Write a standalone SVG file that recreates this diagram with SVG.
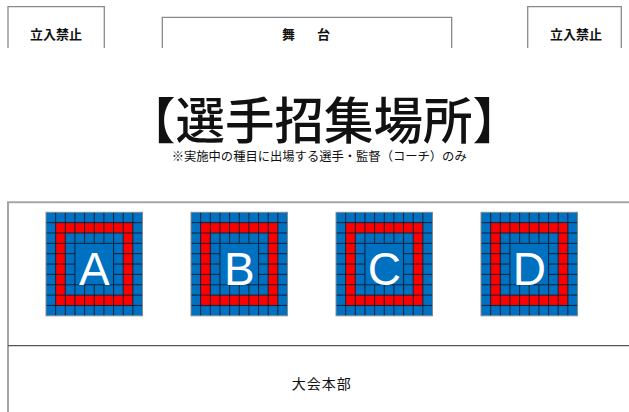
<svg xmlns="http://www.w3.org/2000/svg" xmlns:xlink="http://www.w3.org/1999/xlink" width="629" height="412" viewBox="0 0 629 412">
<style>
.frame{fill:none;stroke:#8a8a8a;stroke-width:1.3}
.jp{font-family:"Noto Sans CJK JP","Noto Sans",sans-serif;fill:#111}
.lbl{font-size:13px;font-weight:bold}
.letter{font-family:"Liberation Sans",Arial,sans-serif;font-size:46px;fill:#fff;text-anchor:middle}
</style>
<defs>
<g id="grid">
<rect x="0" y="0" width="96.5" height="103.5" fill="#0070C0"/>
<rect x="9.65" y="10.35" width="77.2" height="82.8" fill="#FF0000"/>
<rect x="19.3" y="20.7" width="57.9" height="62.1" fill="#0070C0"/>
<path fill="none" stroke="#0d1e30" stroke-width="1" stroke-opacity="0.95" d="M9.65 0V103.5M19.3 0V103.5M28.95 0V103.5M38.6 0V31.05M38.6 72.45V103.5M48.25 0V31.05M48.25 72.45V103.5M57.9 0V31.05M57.9 72.45V103.5M67.55 0V103.5M77.2 0V103.5M86.85 0V103.5M0 10.35H96.5M0 20.7H96.5M0 31.05H96.5M0 41.4H28.95M67.55 41.4H96.5M0 51.75H28.95M67.55 51.75H96.5M0 62.1H28.95M67.55 62.1H96.5M0 72.45H96.5M0 82.8H96.5M0 93.15H96.5"/>
<rect x="0" y="0" width="96.5" height="103.5" fill="none" stroke="#8a8a8a" stroke-width="1"/>
</g>
</defs>
<rect width="629" height="412" fill="#fff"/>
<g id="no-entry-left">
<path class="frame" d="M8 48V6.7H104.3V48"/>
<text class="jp lbl" x="56" y="39" text-anchor="middle">立入禁止</text>
</g>
<g id="stage">
<path class="frame" d="M162.3 48V17.3H451.7V48"/>
<text class="jp lbl" x="288.5 306 323.5" y="39" text-anchor="middle">舞　台</text>
</g>
<g id="no-entry-right">
<path class="frame" d="M527.7 48V6.7H621.3V48"/>
<text class="jp lbl" x="576" y="39" text-anchor="middle">立入禁止</text>
</g>
<g id="title">
<text class="jp" x="324" y="139" font-size="49.5" font-weight="500" text-anchor="middle">【選手招集場所】</text>
<text class="jp" x="171.7" y="160.5" font-size="12.3" textLength="295" lengthAdjust="spacingAndGlyphs">※実施中の種目に出場する選手・監督（コーチ）のみ</text>
</g>
<g id="area">
<path fill="none" stroke="#a6a6a6" stroke-width="2" d="M8 412V202.3H629"/>
<path fill="none" stroke="#555" stroke-width="1.2" d="M8 345.7H629"/>
</g>
<g id="zone-A"><use xlink:href="#grid" x="46" y="212.3"/><text class="letter" x="94.25" y="285">A</text></g>
<g id="zone-B"><use xlink:href="#grid" x="191" y="212.3"/><text class="letter" x="239.25" y="285">B</text></g>
<g id="zone-C"><use xlink:href="#grid" x="336" y="212.3"/><text class="letter" x="384.25" y="285">C</text></g>
<g id="zone-D"><use xlink:href="#grid" x="481" y="212.3"/><text class="letter" x="529.25" y="285">D</text></g>
<g id="hq">
<text class="jp" x="321.7" y="389" font-size="14" text-anchor="middle" letter-spacing="1">大会本部</text>
</g>
</svg>
